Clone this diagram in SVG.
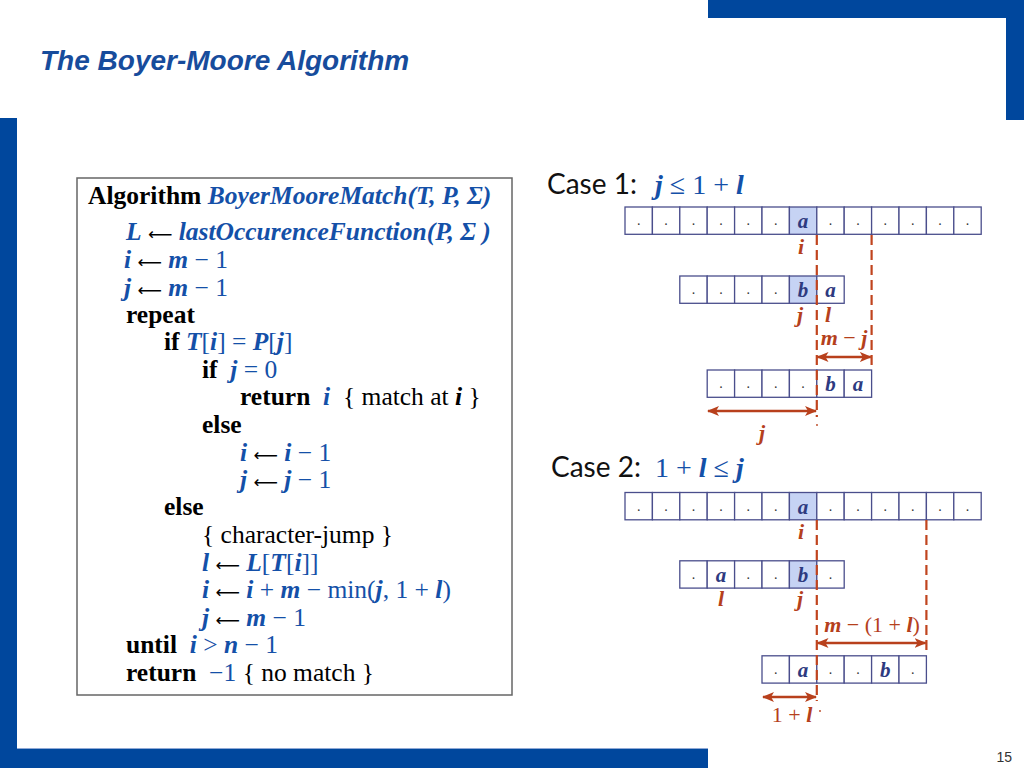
<svg xmlns="http://www.w3.org/2000/svg" width="1024" height="768" viewBox="0 0 1024 768">
<style>
.frame{fill:#00479D}
.alg{font-family:"Liberation Serif","Times New Roman",serif;font-size:25.5px;fill:#000}
.b{font-weight:bold}
.bi{font-weight:bold;font-style:italic}
.blue{fill:#1450A8}
.ar{font-family:"DejaVu Sans",sans-serif;font-size:17px;font-weight:normal;font-style:normal;fill:#000}
.cell{fill:#fff;stroke:#4A4E8C;stroke-width:1.3}
.hl{fill:#C6D3F4;stroke:#4A4E8C;stroke-width:1.3}
.ch{font-family:"Liberation Serif","Times New Roman",serif;font-size:21px;font-weight:bold;font-style:italic;fill:#2E3A80;text-anchor:middle}
.dot{font-family:"Liberation Serif",serif;font-size:14px;fill:#333;text-anchor:middle}
.lbl{font-family:"Liberation Serif","Times New Roman",serif;font-size:22px;fill:#B5401C}
.case{font-family:Lato,"Open Sans",sans-serif;font-size:28px;fill:#111}
.math{font-family:"Liberation Serif","Times New Roman",serif;font-size:28px;fill:#1450A8}
.dash{stroke:#C0441E;stroke-width:2.2;stroke-dasharray:10,5;fill:none}
.arr{stroke:#B8401C;stroke-width:2.5;fill:none;marker-start:url(#ah);marker-end:url(#ah)}
</style>
<defs>
<marker id="ah" viewBox="0 0 12 10" refX="11" refY="5" markerWidth="12" markerHeight="10" markerUnits="userSpaceOnUse" orient="auto-start-reverse">
<path d="M0,0 L12,5 L0,10 L3,5 Z" fill="#B8401C"/>
</marker>
</defs>
<rect width="1024" height="768" fill="#fff"/>
<g id="frame">
<rect class="frame" x="708" y="0" width="316" height="18"/>
<rect class="frame" x="1006" y="0" width="18" height="120"/>
<rect class="frame" x="0" y="118" width="17" height="650"/>
<rect class="frame" x="0" y="749" width="708" height="19"/>
<line x1="17" y1="748.5" x2="708" y2="748.5" stroke="#8FA9D6" stroke-width="1"/>
</g>
<text id="title" x="40" y="70" font-family="Liberation Sans,Arial,sans-serif" font-size="28" font-weight="bold" font-style="italic" fill="#174C9C">The Boyer-Moore Algorithm</text>
<text id="page" x="1012" y="762" text-anchor="end" font-family="Liberation Sans,Arial,sans-serif" font-size="14" fill="#333">15</text>

<g id="algorithm">
<rect x="77" y="178" width="435" height="517" fill="#fff" stroke="#666" stroke-width="1.5"/>
<text class="alg" xml:space="preserve" x="88" y="204"><tspan class="b">Algorithm </tspan><tspan class="bi blue">BoyerMooreMatch(T, P, Σ)</tspan></text>
<text class="alg" xml:space="preserve" x="126" y="240"><tspan class="bi blue">L</tspan> <tspan class="ar">⟵</tspan> <tspan class="bi blue">lastOccurenceFunction</tspan><tspan class="bi blue">(P, Σ )</tspan></text>
<text class="alg" xml:space="preserve" x="124" y="268"><tspan class="bi blue">i</tspan> <tspan class="ar">⟵</tspan> <tspan class="bi blue">m</tspan><tspan class="blue"> − 1</tspan></text>
<text class="alg" xml:space="preserve" x="124" y="296"><tspan class="bi blue">j</tspan> <tspan class="ar">⟵</tspan> <tspan class="bi blue">m</tspan><tspan class="blue"> − 1</tspan></text>
<text class="alg b" x="126" y="323">repeat</text>
<text class="alg" xml:space="preserve" x="164" y="350"><tspan class="b">if </tspan><tspan class="bi blue">T</tspan><tspan class="blue">[</tspan><tspan class="bi blue">i</tspan><tspan class="blue">] = </tspan><tspan class="bi blue">P</tspan><tspan class="blue">[</tspan><tspan class="bi blue">j</tspan><tspan class="blue">]</tspan></text>
<text class="alg" xml:space="preserve" x="202" y="378"><tspan class="b">if  </tspan><tspan class="bi blue">j</tspan><tspan class="blue"> = 0</tspan></text>
<text class="alg" xml:space="preserve" x="240" y="405"><tspan class="b">return  </tspan><tspan class="bi blue">i</tspan>  { match at <tspan class="bi">i</tspan> }</text>
<text class="alg b" x="202" y="433">else</text>
<text class="alg" xml:space="preserve" x="240" y="461"><tspan class="bi blue">i</tspan> <tspan class="ar">⟵</tspan> <tspan class="bi blue">i</tspan><tspan class="blue"> − 1</tspan></text>
<text class="alg" xml:space="preserve" x="240" y="488"><tspan class="bi blue">j</tspan> <tspan class="ar">⟵</tspan> <tspan class="bi blue">j</tspan><tspan class="blue"> − 1</tspan></text>
<text class="alg b" x="164" y="515">else</text>
<text class="alg" x="202" y="543">{ character-jump }</text>
<text class="alg" xml:space="preserve" x="202" y="571"><tspan class="bi blue">l</tspan> <tspan class="ar">⟵</tspan> <tspan class="bi blue">L</tspan><tspan class="blue">[</tspan><tspan class="bi blue">T</tspan><tspan class="blue">[</tspan><tspan class="bi blue">i</tspan><tspan class="blue">]]</tspan></text>
<text class="alg" xml:space="preserve" x="202" y="598"><tspan class="bi blue">i</tspan> <tspan class="ar">⟵</tspan> <tspan class="bi blue">i</tspan><tspan class="blue"> + </tspan><tspan class="bi blue">m</tspan><tspan class="blue"> − min(</tspan><tspan class="bi blue">j</tspan><tspan class="blue">, 1 + </tspan><tspan class="bi blue">l</tspan><tspan class="blue">)</tspan></text>
<text class="alg" xml:space="preserve" x="202" y="626"><tspan class="bi blue">j</tspan> <tspan class="ar">⟵</tspan> <tspan class="bi blue">m</tspan><tspan class="blue"> − 1</tspan></text>
<text class="alg" xml:space="preserve" x="126" y="653"><tspan class="b">until  </tspan><tspan class="bi blue">i</tspan><tspan class="blue"> &gt; </tspan><tspan class="bi blue">n</tspan><tspan class="blue"> − 1</tspan></text>
<text class="alg" xml:space="preserve" x="126" y="681"><tspan class="b">return  </tspan><tspan class="blue">−1</tspan> { no match }</text>
</g>

<g id="case1-heading">
<text class="case" x="547" y="194">Case 1:</text>
<text class="math" xml:space="preserve" x="655" y="194"><tspan class="bi">j</tspan> ≤ 1 + <tspan class="bi">l</tspan></text>
</g>
<g id="case2-heading">
<text class="case" x="551" y="477">Case 2:</text>
<text class="math" xml:space="preserve" x="655" y="477">1 + <tspan class="bi">l</tspan> ≤ <tspan class="bi">j</tspan></text>
</g>

<g id="case1-text">
<rect class="cell" x="625" y="207" width="27.4" height="27.3"/><text class="dot" x="638.7" y="225">.</text>
<rect class="cell" x="652.4" y="207" width="27.4" height="27.3"/><text class="dot" x="666.1" y="225">.</text>
<rect class="cell" x="679.8" y="207" width="27.4" height="27.3"/><text class="dot" x="693.5" y="225">.</text>
<rect class="cell" x="707.2" y="207" width="27.4" height="27.3"/><text class="dot" x="720.9" y="225">.</text>
<rect class="cell" x="734.6" y="207" width="27.4" height="27.3"/><text class="dot" x="748.3" y="225">.</text>
<rect class="cell" x="762" y="207" width="27.4" height="27.3"/><text class="dot" x="775.7" y="225">.</text>
<rect class="hl" x="789.4" y="207" width="27.4" height="27.3"/><text class="ch" x="803.1" y="228">a</text>
<rect class="cell" x="816.8" y="207" width="27.4" height="27.3"/><text class="dot" x="830.5" y="225">.</text>
<rect class="cell" x="844.2" y="207" width="27.4" height="27.3"/><text class="dot" x="857.9" y="225">.</text>
<rect class="cell" x="871.6" y="207" width="27.4" height="27.3"/><text class="dot" x="885.3" y="225">.</text>
<rect class="cell" x="899" y="207" width="27.4" height="27.3"/><text class="dot" x="912.7" y="225">.</text>
<rect class="cell" x="926.4" y="207" width="27.4" height="27.3"/><text class="dot" x="940.1" y="225">.</text>
<rect class="cell" x="953.8" y="207" width="27.4" height="27.3"/><text class="dot" x="967.5" y="225">.</text>
</g>
<g id="case1-pattern">
<rect class="cell" x="679.8" y="276" width="27.4" height="27.3"/><text class="dot" x="693.5" y="294">.</text>
<rect class="cell" x="707.2" y="276" width="27.4" height="27.3"/><text class="dot" x="720.9" y="294">.</text>
<rect class="cell" x="734.6" y="276" width="27.4" height="27.3"/><text class="dot" x="748.3" y="294">.</text>
<rect class="cell" x="762" y="276" width="27.4" height="27.3"/><text class="dot" x="775.7" y="294">.</text>
<rect class="hl" x="789.4" y="276" width="27.4" height="27.3"/><text class="ch" x="803.1" y="297">b</text>
<rect class="cell" x="816.8" y="276" width="27.4" height="27.3"/><text class="ch" x="830.5" y="297">a</text>
</g>
<g id="case1-shifted">
<rect class="cell" x="707.2" y="370" width="27.4" height="27.3"/><text class="dot" x="720.9" y="388">.</text>
<rect class="cell" x="734.6" y="370" width="27.4" height="27.3"/><text class="dot" x="748.3" y="388">.</text>
<rect class="cell" x="762" y="370" width="27.4" height="27.3"/><text class="dot" x="775.7" y="388">.</text>
<rect class="cell" x="789.4" y="370" width="27.4" height="27.3"/><text class="dot" x="803.1" y="388">.</text>
<rect class="cell" x="816.8" y="370" width="27.4" height="27.3"/><text class="ch" x="830.5" y="391">b</text>
<rect class="cell" x="844.2" y="370" width="27.4" height="27.3"/><text class="ch" x="857.9" y="391">a</text>
</g>

<g id="case2-text">
<rect class="cell" x="625" y="492.5" width="27.4" height="27.3"/><text class="dot" x="638.7" y="510.5">.</text>
<rect class="cell" x="652.4" y="492.5" width="27.4" height="27.3"/><text class="dot" x="666.1" y="510.5">.</text>
<rect class="cell" x="679.8" y="492.5" width="27.4" height="27.3"/><text class="dot" x="693.5" y="510.5">.</text>
<rect class="cell" x="707.2" y="492.5" width="27.4" height="27.3"/><text class="dot" x="720.9" y="510.5">.</text>
<rect class="cell" x="734.6" y="492.5" width="27.4" height="27.3"/><text class="dot" x="748.3" y="510.5">.</text>
<rect class="cell" x="762" y="492.5" width="27.4" height="27.3"/><text class="dot" x="775.7" y="510.5">.</text>
<rect class="hl" x="789.4" y="492.5" width="27.4" height="27.3"/><text class="ch" x="803.1" y="513.5">a</text>
<rect class="cell" x="816.8" y="492.5" width="27.4" height="27.3"/><text class="dot" x="830.5" y="510.5">.</text>
<rect class="cell" x="844.2" y="492.5" width="27.4" height="27.3"/><text class="dot" x="857.9" y="510.5">.</text>
<rect class="cell" x="871.6" y="492.5" width="27.4" height="27.3"/><text class="dot" x="885.3" y="510.5">.</text>
<rect class="cell" x="899" y="492.5" width="27.4" height="27.3"/><text class="dot" x="912.7" y="510.5">.</text>
<rect class="cell" x="926.4" y="492.5" width="27.4" height="27.3"/><text class="dot" x="940.1" y="510.5">.</text>
<rect class="cell" x="953.8" y="492.5" width="27.4" height="27.3"/><text class="dot" x="967.5" y="510.5">.</text>
</g>
<g id="case2-pattern">
<rect class="cell" x="679.8" y="560.8" width="27.4" height="27.3"/><text class="dot" x="693.5" y="578.8">.</text>
<rect class="cell" x="707.2" y="560.8" width="27.4" height="27.3"/><text class="ch" x="720.9" y="581.8">a</text>
<rect class="cell" x="734.6" y="560.8" width="27.4" height="27.3"/><text class="dot" x="748.3" y="578.8">.</text>
<rect class="cell" x="762" y="560.8" width="27.4" height="27.3"/><text class="dot" x="775.7" y="578.8">.</text>
<rect class="hl" x="789.4" y="560.8" width="27.4" height="27.3"/><text class="ch" x="803.1" y="581.8">b</text>
<rect class="cell" x="816.8" y="560.8" width="27.4" height="27.3"/><text class="dot" x="830.5" y="578.8">.</text>
</g>
<g id="case2-shifted">
<rect class="cell" x="762" y="655.8" width="27.4" height="27.3"/><text class="dot" x="775.7" y="673.8">.</text>
<rect class="cell" x="789.4" y="655.8" width="27.4" height="27.3"/><text class="ch" x="803.1" y="676.8">a</text>
<rect class="cell" x="816.8" y="655.8" width="27.4" height="27.3"/><text class="dot" x="830.5" y="673.8">.</text>
<rect class="cell" x="844.2" y="655.8" width="27.4" height="27.3"/><text class="dot" x="857.9" y="673.8">.</text>
<rect class="cell" x="871.6" y="655.8" width="27.4" height="27.3"/><text class="ch" x="885.3" y="676.8">b</text>
<rect class="cell" x="899" y="655.8" width="27.4" height="27.3"/><text class="dot" x="912.7" y="673.8">.</text>
</g>

<g id="connectors">
<line class="dash" x1="816.8" y1="235" x2="816.8" y2="417"/>
<line class="dash" x1="871.6" y1="235" x2="871.6" y2="370"/>
<line class="arr" x1="817.5" y1="357" x2="870.8" y2="357"/>
<line class="arr" x1="708" y1="411" x2="816" y2="411"/>
<circle cx="817" cy="425" r="0.9" fill="#B8401C"/>
<line class="dash" x1="816.8" y1="520" x2="816.8" y2="701"/>
<line class="dash" x1="926.4" y1="520" x2="926.4" y2="655"/>
<line class="arr" x1="817.5" y1="643" x2="925.6" y2="643"/>
<line class="arr" x1="763" y1="697" x2="816" y2="697"/>
<circle cx="820" cy="711" r="0.9" fill="#B8401C"/>
</g>

<g id="labels">
<text class="lbl bi" x="801" y="254" text-anchor="middle">i</text>
<text class="lbl bi" x="800" y="322" text-anchor="middle">j</text>
<text class="lbl bi" x="828" y="322" text-anchor="middle">l</text>
<text class="lbl" xml:space="preserve" x="844" y="345" text-anchor="middle"><tspan class="bi">m</tspan> − <tspan class="bi">j</tspan></text>
<text class="lbl bi" x="762" y="440" text-anchor="middle">j</text>
<text class="lbl bi" x="801" y="539" text-anchor="middle">i</text>
<text class="lbl bi" x="721" y="606" text-anchor="middle">l</text>
<text class="lbl bi" x="800" y="606" text-anchor="middle">j</text>
<text class="lbl" xml:space="preserve" x="872" y="632" text-anchor="middle"><tspan class="bi">m</tspan> − (1 + <tspan class="bi">l</tspan>)</text>
<text class="lbl" xml:space="preserve" x="792" y="722" text-anchor="middle">1 + <tspan class="bi">l</tspan></text>
</g>
</svg>
